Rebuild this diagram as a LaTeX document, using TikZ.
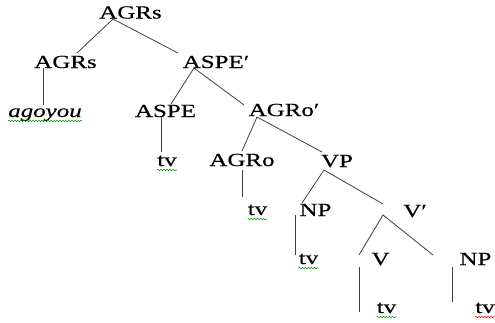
\documentclass[tikz,border=0pt]{standalone}
\usepackage{fontspec}
\setmainfont{Liberation Serif}[FakeStretch=1.35, FakeBold=0.4]
\usetikzlibrary{decorations.pathmorphing}

\tikzset{
    lbl/.style={anchor=base, inner sep=0pt, font=\fontsize{18.5}{20}\selectfont},
    branch/.style={black!75, line width=0.8pt},
    squig/.style={decorate, decoration={snake, segment length=3pt, amplitude=0.7pt}, line width=0.6pt},
}

\begin{document}
\begin{tikzpicture}[x=1pt, y=-1pt]
        \useasboundingbox (0,0) rectangle (495,322);

        % labels
        \node[lbl] (agrsTop) at (130.5,18.5) {AGRs};
        \node[lbl] (agrs) at (65.5,68) {AGRs};
        \node[lbl] (aspeBar) at (216,68) {ASPE′};
        \node[lbl] (agoyou) at (45,117) {\textit{agoyou}};
        \node[lbl] (aspe) at (165.5,117) {ASPE};
        \node[lbl] (agroBar) at (284,116) {AGRo′};
        \node[lbl] (tvAspe) at (167,166) {tv};
        \node[lbl] (agro) at (242,166) {AGRo};
        \node[lbl] (vp) at (337,167) {VP};
        \node[lbl] (tvAgro) at (257.5,215) {tv};
        \node[lbl] (npObj) at (315.5,216) {NP};
        \node[lbl] (vBar) at (415,217) {V′};
        \node[lbl] (tvNp) at (308.5,264) {tv};
        \node[lbl] (verb) at (380.5,265) {V};
        \node[lbl] (npCompl) at (475.5,265) {NP};
        \node[lbl] (tvVerb) at (386.5,313) {tv};
        \node[lbl] (tvCompl) at (485,313) {tv};

        %%%%%%%%%%%%%%%%%%%%%%%%%%%%%%
        % branch ends
        \coordinate (agrsTop-a) at (113,19);
        \coordinate (agrs-t) at (77,53);
        \coordinate (aspeBar-t) at (178,53);
        \coordinate (agrs-b) at (43,68);
        \coordinate (agoyou-t) at (43,105);
        \coordinate (aspeBar-a) at (194,68);
        \coordinate (aspe-t) at (171,104);
        \coordinate (agroBar-t) at (244,105);
        \coordinate (aspe-b) at (161,117);
        \coordinate (tvAspe-t) at (161,152);
        \coordinate (agroBar-a) at (257,117);
        \coordinate (agro-t) at (242,151);
        \coordinate (vp-t) at (322,152);
        \coordinate (agro-b) at (242,170);
        \coordinate (tvAgro-t) at (242,197);
        \coordinate (vp-a) at (324,170);
        \coordinate (npObj-t) at (302,203);
        \coordinate (vBar-t) at (383,204);
        \coordinate (npObj-b) at (295,215);
        \coordinate (tvNp-t) at (295,255);
        \coordinate (vBar-a) at (383,215);
        \coordinate (verb-t) at (359,255);
        \coordinate (npCompl-t) at (433,255);
        \coordinate (verb-b) at (359,267);
        \coordinate (tvVerb-t) at (359,312);
        \coordinate (npCompl-b) at (452,267);
        \coordinate (tvCompl-t) at (452,302);

        %%%%%%%%%%%%%%%%%%%%%%%%%%%%%%
        \draw[branch] (agrs-t) -- (agrsTop-a) -- (aspeBar-t);
        \draw[branch] (agrs-b) -- (agoyou-t);
        \draw[branch] (aspe-t) -- (aspeBar-a) -- (agroBar-t);
        \draw[branch] (aspe-b) -- (tvAspe-t);
        \draw[branch] (agro-t) -- (agroBar-a) -- (vp-t);
        \draw[branch] (agro-b) -- (tvAgro-t);
        \draw[branch] (npObj-t) -- (vp-a) -- (vBar-t);
        \draw[branch] (npObj-b) -- (tvNp-t);
        \draw[branch] (verb-t) -- (vBar-a) -- (npCompl-t);
        \draw[branch] (verb-b) -- (tvVerb-t);
        \draw[branch] (npCompl-b) -- (tvCompl-t);

        %%%%%%%%%%%%%%%%%%%%%%%%%%%%%%
        % spelling marks
        \foreach \w in {agoyou, tvAspe, tvAgro, tvNp, tvVerb}
            \draw[squig, green!60!black] ([yshift=-4pt]\w.base west) -- ([yshift=-4pt]\w.base east);
        \draw[squig, red] ([yshift=-4pt]tvCompl.base west) -- ([yshift=-4pt]tvCompl.base east);
\end{tikzpicture}
\end{document}
